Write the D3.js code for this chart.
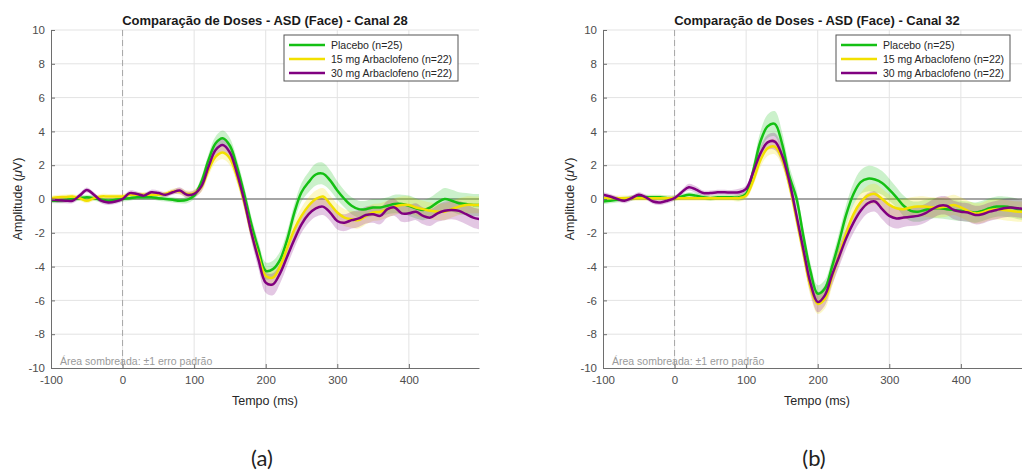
<!DOCTYPE html>
<html>
<head>
<meta charset="utf-8">
<script src="https://cdn.jsdelivr.net/npm/d3@7"></script>
<style>
  body { margin: 0; background: #fff; }
  svg { font-family: "Liberation Sans", Arial, sans-serif; }
</style>
</head>
<body>
<svg id="fig" width="1022" height="471"></svg>
<script>
// time grid (ms), one sample every 10 ms
const times = d3.range(-100, 501, 10);

const seriesNames = ["Placebo (n=25)", "15 mg Arbaclofeno (n=22)", "30 mg Arbaclofeno (n=22)"];
const seriesColors = ["#14c014", "#f2e000", "#800080"];

const xTicks = [-100, 0, 100, 200, 300, 400];
const yTicks = [-10, -8, -6, -4, -2, 0, 2, 4, 6, 8, 10];

// ---- Canal 28 ----
const placebo28 = [-0.1,-0.1,-0.05,0,0.05,0.1,0.05,-0.05,-0.1,-0.05,0,0.05,0.1,0.1,0.1,0.05,0,-0.05,-0.1,-0.05,
  0.2,1.0,2.3,3.3,3.6,3.15,1.9,0.3,-1.5,-3.0,-4.25,-4.15,-3.6,-2.4,-0.8,0.4,1.0,1.45,1.5,1.1,
  0.5,0.0,-0.4,-0.6,-0.6,-0.5,-0.5,-0.4,-0.3,-0.3,-0.4,-0.55,-0.65,-0.5,-0.2,0.0,-0.1,-0.25,-0.3,-0.35,-0.35];
const dose15_28 = [0.05,0.1,0.12,0.15,0.05,-0.1,0.05,0.15,0.15,0.15,0.15,0.25,0.25,0.25,0.25,0.25,0.3,0.45,0.45,0.3,
  0.35,0.7,1.7,2.5,2.75,2.4,1.3,-0.2,-2.0,-3.4,-4.55,-4.65,-4.0,-2.9,-1.8,-1.0,-0.4,0.0,0.15,-0.3,
  -0.8,-1.1,-1.2,-1.25,-1.0,-0.8,-0.75,-0.6,-0.45,-0.35,-0.35,-0.5,-0.6,-0.7,-0.75,-0.75,-0.6,-0.45,-0.35,-0.35,-0.35];
const dose30_28 = [-0.05,-0.08,-0.1,-0.1,0.2,0.53,0.25,-0.1,-0.2,-0.15,0.0,0.35,0.3,0.2,0.4,0.35,0.25,0.4,0.5,0.25,
  0.3,0.75,1.9,2.9,3.2,2.75,1.5,-0.1,-2.0,-3.6,-4.95,-5.05,-4.4,-3.4,-2.4,-1.5,-0.9,-0.55,-0.45,-0.8,
  -1.3,-1.4,-1.25,-1.15,-0.95,-0.9,-1.0,-0.6,-0.5,-0.85,-0.85,-0.75,-1.0,-1.1,-0.85,-0.7,-0.65,-0.7,-0.9,-1.1,-1.2];
const placeboSe28 = [0.15,0.15,0.15,0.15,0.15,0.15,0.15,0.15,0.15,0.15,0.15,0.15,0.15,0.15,0.15,0.15,0.15,0.15,0.15,0.2,
  0.2,0.3,0.35,0.4,0.45,0.45,0.45,0.45,0.45,0.45,0.5,0.5,0.5,0.5,0.5,0.55,0.6,0.65,0.65,0.6,
  0.55,0.5,0.5,0.5,0.5,0.5,0.5,0.5,0.55,0.55,0.6,0.6,0.6,0.6,0.6,0.65,0.65,0.65,0.65,0.65,0.65];
const dose15Se28 = [0.15,0.15,0.15,0.15,0.15,0.15,0.15,0.15,0.15,0.15,0.15,0.15,0.15,0.15,0.15,0.15,0.15,0.15,0.2,0.2,
  0.2,0.3,0.35,0.35,0.4,0.4,0.4,0.45,0.45,0.45,0.5,0.5,0.5,0.5,0.5,0.5,0.5,0.5,0.5,0.5,
  0.5,0.5,0.5,0.5,0.5,0.5,0.5,0.5,0.5,0.5,0.5,0.5,0.5,0.5,0.5,0.5,0.5,0.5,0.5,0.5,0.5];
const dose30Se28 = [0.15,0.15,0.15,0.15,0.15,0.15,0.15,0.15,0.15,0.15,0.15,0.15,0.15,0.15,0.15,0.15,0.15,0.15,0.2,0.2,
  0.2,0.3,0.35,0.35,0.4,0.4,0.4,0.45,0.5,0.55,0.6,0.65,0.6,0.55,0.5,0.5,0.5,0.5,0.5,0.5,
  0.5,0.5,0.5,0.5,0.5,0.5,0.5,0.5,0.5,0.5,0.5,0.5,0.5,0.5,0.5,0.55,0.55,0.6,0.6,0.6,0.6];

// ---- Canal 32 ----
const placebo32 = [-0.15,-0.1,-0.05,0,0.05,0.1,0.1,0.1,0.1,0.05,0.05,0.15,0.25,0.2,0.1,0.05,0.1,0.1,0.1,0.1,
  0.3,1.7,3.4,4.3,4.45,3.3,1.4,0.1,-2.2,-4.3,-5.6,-5.3,-4.0,-2.5,-0.9,0.3,1.0,1.2,1.15,0.95,
  0.55,0.1,-0.4,-0.7,-0.75,-0.65,-0.55,-0.55,-0.6,-0.65,-0.7,-0.75,-0.8,-0.7,-0.55,-0.45,-0.45,-0.5,-0.6,-0.65,-0.65];
const dose15_32 = [0.05,0.05,0.05,0.05,0.05,0.05,0.05,0.05,0.05,0.05,0.05,0.05,0.05,0.05,0.05,0.05,0.05,0.05,0.05,0.05,
  0.2,1.1,2.3,3.0,3.1,2.4,0.9,-1.1,-3.2,-5.2,-6.2,-5.9,-4.6,-3.3,-2.0,-0.9,-0.2,0.2,0.3,0.0,
  -0.35,-0.55,-0.6,-0.5,-0.45,-0.45,-0.5,-0.5,-0.45,-0.35,-0.5,-0.7,-0.85,-0.8,-0.65,-0.6,-0.65,-0.7,-0.75,-0.75,-0.75];
const dose30_32 = [0.25,0.15,0.0,-0.1,0.05,0.25,0.1,-0.15,-0.2,-0.1,0.05,0.4,0.7,0.55,0.35,0.35,0.4,0.4,0.38,0.4,
  0.6,1.6,2.7,3.35,3.4,2.6,1.1,-0.9,-3.0,-5.0,-6.1,-5.7,-4.5,-3.4,-2.3,-1.4,-0.7,-0.25,-0.15,-0.6,
  -1.0,-1.15,-1.1,-1.05,-1.0,-0.85,-0.6,-0.4,-0.4,-0.65,-0.75,-0.8,-0.95,-0.9,-0.75,-0.65,-0.55,-0.5,-0.55,-0.6,-0.6];
const placeboSe32 = [0.15,0.15,0.15,0.15,0.15,0.15,0.15,0.15,0.15,0.15,0.15,0.15,0.15,0.15,0.15,0.15,0.15,0.15,0.15,0.2,
  0.2,0.4,0.6,0.7,0.75,0.7,0.6,0.5,0.5,0.5,0.5,0.5,0.5,0.55,0.6,0.65,0.7,0.75,0.75,0.7,
  0.65,0.6,0.6,0.6,0.6,0.6,0.6,0.6,0.6,0.6,0.6,0.6,0.6,0.6,0.6,0.6,0.6,0.6,0.6,0.6,0.6];
const dose15Se32 = [0.15,0.15,0.15,0.15,0.15,0.15,0.15,0.15,0.15,0.15,0.15,0.15,0.15,0.15,0.15,0.15,0.15,0.15,0.15,0.2,
  0.2,0.3,0.4,0.45,0.45,0.45,0.45,0.5,0.5,0.55,0.6,0.6,0.6,0.55,0.55,0.55,0.55,0.6,0.6,0.6,
  0.6,0.6,0.6,0.6,0.6,0.6,0.6,0.6,0.6,0.6,0.6,0.6,0.6,0.6,0.6,0.6,0.6,0.6,0.6,0.6,0.6];
const dose30Se32 = [0.15,0.15,0.15,0.15,0.15,0.15,0.15,0.15,0.15,0.15,0.15,0.15,0.2,0.2,0.15,0.15,0.15,0.15,0.15,0.2,
  0.2,0.3,0.4,0.45,0.5,0.5,0.5,0.5,0.55,0.6,0.6,0.6,0.6,0.6,0.6,0.6,0.6,0.6,0.6,0.6,
  0.6,0.6,0.55,0.55,0.55,0.55,0.55,0.55,0.55,0.55,0.55,0.55,0.55,0.55,0.55,0.55,0.55,0.55,0.55,0.55,0.55];

const panels = [
  {title: "Comparação de Doses - ASD (Face) - Canal 28", tag: "(a)", left: 51,
   means: [placebo28, dose15_28, dose30_28], ses: [placeboSe28, dose15Se28, dose30Se28]},
  {title: "Comparação de Doses - ASD (Face) - Canal 32", tag: "(b)", left: 603,
   means: [placebo32, dose15_32, dose30_32], ses: [placeboSe32, dose15Se32, dose30Se32]}
];

const svg = d3.select("#fig");
const plotW = 428, plotTop = 30, plotBottom = 368;

panels.forEach(function(p, pi) {
  const x = d3.scaleLinear().domain([-100, 498]).range([p.left, p.left + plotW]);
  const y = d3.scaleLinear().domain([-10, 10]).range([plotBottom, plotTop]);
  const g = svg.append("g");

  g.append("clipPath").attr("id", "clip" + pi)
    .append("rect").attr("x", p.left).attr("y", plotTop).attr("width", plotW).attr("height", plotBottom - plotTop);

  // grid
  g.selectAll(".vgrid").data(xTicks.slice(1)).enter().append("line")
    .attr("x1", d => x(d)).attr("x2", d => x(d)).attr("y1", plotTop).attr("y2", plotBottom)
    .attr("stroke", "#e3e3e3").attr("stroke-width", 1);
  g.selectAll(".hgrid").data(yTicks.slice(1)).enter().append("line")
    .attr("x1", p.left).attr("x2", p.left + plotW).attr("y1", d => y(d)).attr("y2", d => y(d))
    .attr("stroke", "#e3e3e3").attr("stroke-width", 1);

  // zero line + stimulus onset
  g.append("line").attr("x1", p.left).attr("x2", p.left + plotW).attr("y1", y(0)).attr("y2", y(0))
    .attr("stroke", "#8c8c8c").attr("stroke-width", 1.5);
  g.append("line").attr("x1", x(0)).attr("x2", x(0)).attr("y1", plotTop).attr("y2", plotBottom)
    .attr("stroke", "#a6a6a6").attr("stroke-width", 1).attr("stroke-dasharray", "6,4");

  const plot = g.append("g").attr("clip-path", "url(#clip" + pi + ")");

  const area = d3.area().curve(d3.curveCatmullRom)
    .x(d => x(d.t)).y0(d => y(d.m - d.s)).y1(d => y(d.m + d.s));
  const line = d3.line().curve(d3.curveCatmullRom)
    .x(d => x(d.t)).y(d => y(d.m));

  const rows = p.means.map(function(m, k) {
    return times.map((t, i) => ({t: t, m: m[i], s: p.ses[k][i]}));
  });

  rows.forEach(function(r, k) {  // bands first
    plot.append("path").datum(r).attr("d", area)
      .attr("fill", seriesColors[k]).attr("fill-opacity", 0.22).attr("stroke", "none");
  });
  rows.forEach(function(r, k) {
    plot.append("path").datum(r).attr("d", line)
      .attr("fill", "none").attr("stroke", seriesColors[k]).attr("stroke-width", 2.5);
  });

  // axes, MATLAB style (ticks inward, plain hyphen minus)
  const fmt = d => String(d);
  const xAxis = g.append("g").attr("transform", "translate(0," + plotBottom + ")")
    .call(d3.axisBottom(x).tickValues(xTicks).tickFormat(fmt).tickSizeInner(-4).tickSizeOuter(0).tickPadding(8));
  const yAxis = g.append("g").attr("transform", "translate(" + p.left + ",0)")
    .call(d3.axisLeft(y).tickValues(yTicks).tickFormat(fmt).tickSizeInner(-4).tickSizeOuter(0).tickPadding(6));
  [xAxis, yAxis].forEach(function(a) {
    a.select(".domain").attr("stroke", "#6e6e6e");
    a.selectAll(".tick line").attr("stroke", "#6e6e6e");
    a.selectAll("text").attr("fill", "#4d4d4d").style("font-size", "11.5px")
      .style("font-family", "'Liberation Sans', Arial, sans-serif");
  });

  const cx = p.left + plotW / 2;
  g.append("text").attr("x", cx).attr("y", 25).attr("text-anchor", "middle")
    .style("font-size", "13px").style("font-weight", "bold").attr("fill", "#1a1a1a").text(p.title);
  g.append("text").attr("x", cx).attr("y", 405).attr("text-anchor", "middle")
    .style("font-size", "12.5px").attr("fill", "#262626").text("Tempo (ms)");
  const yl = g.append("text").attr("transform", "translate(" + (p.left - 29) + "," + y(0) + ") rotate(-90)")
    .attr("text-anchor", "middle").style("font-size", "12.5px").attr("fill", "#262626");
  yl.append("tspan").text("Amplitude (");
  yl.append("tspan").style("font-style", "italic").text("μ");
  yl.append("tspan").text("V)");
  g.append("text").attr("x", p.left + 9).attr("y", 365)
    .style("font-size", "10.5px").attr("fill", "#9a9a9a").text("Área sombreada: ±1 erro padrão");
  g.append("text").attr("x", cx - 3).attr("y", 466).attr("text-anchor", "middle")
    .style("font-size", "22px").style("font-family", "Lato, 'Open Sans', sans-serif")
    .attr("fill", "#222").text(p.tag);

  // legend
  const lx = p.left + 233, ly = 35;
  const leg = g.append("g").attr("transform", "translate(" + lx + "," + ly + ")");
  leg.append("rect").attr("width", 174).attr("height", 46)
    .attr("fill", "#fff").attr("stroke", "#555").attr("stroke-width", 1);
  seriesNames.forEach(function(name, k) {
    const ry = 10 + k * 14;
    leg.append("line").attr("x1", 5).attr("x2", 41).attr("y1", ry).attr("y2", ry)
      .attr("stroke", seriesColors[k]).attr("stroke-width", 2.5);
    leg.append("text").attr("x", 47).attr("y", ry + 4)
      .style("font-size", "10.5px").attr("fill", "#262626").text(name);
  });
});
</script>
</body>
</html>
